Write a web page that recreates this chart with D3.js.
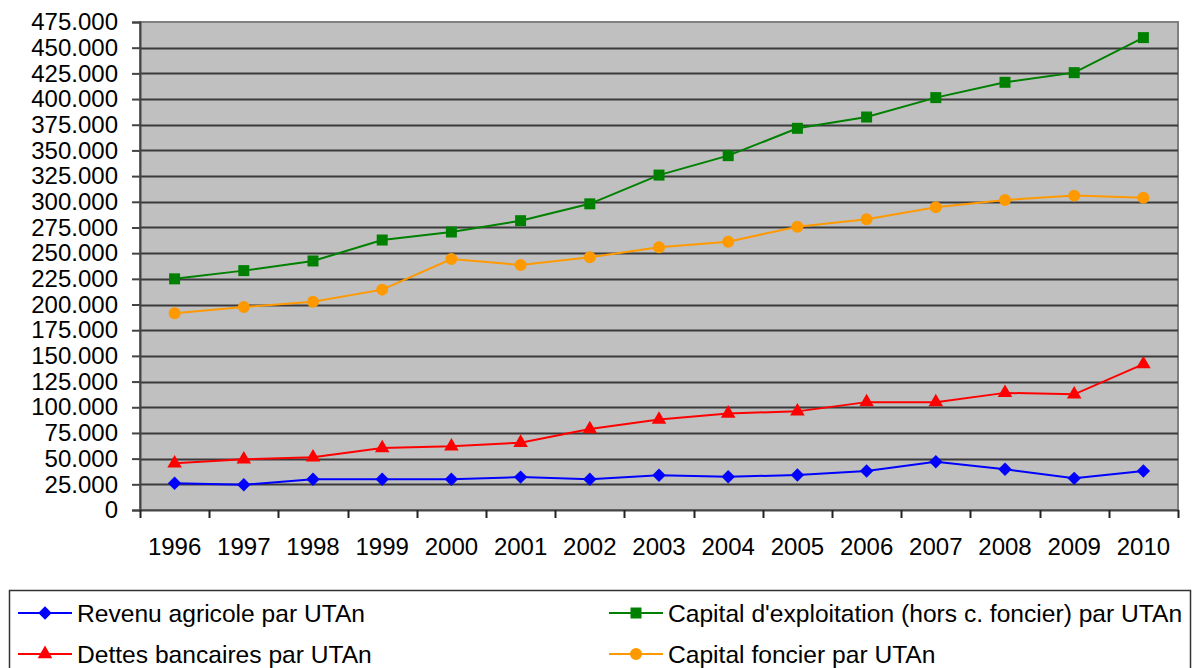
<!DOCTYPE html>
<html>
<head>
<meta charset="utf-8">
<script src="https://cdn.jsdelivr.net/npm/d3@7"></script>
<style>
    body { margin: 0; background: #fff; }
    svg { display: block; font-family: "Liberation Sans", Arial, sans-serif; }
</style>
</head>
<body>
<script>
const years = ["1996", "1997", "1998", "1999", "2000", "2001", "2002", "2003",
    "2004", "2005", "2006", "2007", "2008", "2009", "2010"];
const yTicks = [0, 25000, 50000, 75000, 100000, 125000, 150000, 175000, 200000,
    225000, 250000, 275000, 300000, 325000, 350000, 375000, 400000, 425000, 450000, 475000];

const revenu = [26000, 24600, 29900, 30000, 30000, 32000, 30000, 33800,
    32400, 34000, 38000, 47000, 39600, 30800, 38000];
const dettes = [45400, 49300, 51300, 60300, 62000, 65500, 78800, 88000,
    94000, 96000, 105000, 105000, 114000, 112600, 142000];
const capitalExpl = [225000, 233000, 242400, 262800, 270600, 281600, 298000, 326000,
    344900, 371500, 382500, 401400, 416300, 425700, 459800];
const capitalFoncier = [191500, 197600, 202800, 214500, 244300, 238500, 246000, 255700,
    261200, 275800, 283000, 294600, 301800, 306000, 304000];

const series = [
    { name: "Revenu agricole par UTAn", values: revenu, color: "#0000ff", symbol: "diamond", col: 0, row: 0 },
    { name: "Capital d'exploitation (hors c. foncier) par UTAn", values: capitalExpl, color: "#008000", symbol: "square", col: 1, row: 0 },
    { name: "Dettes bancaires par UTAn", values: dettes, color: "#ff0000", symbol: "triangle", col: 0, row: 1 },
    { name: "Capital foncier par UTAn", values: capitalFoncier, color: "#ff9900", symbol: "circle", col: 1, row: 1 }
];

const W = 1192, H = 668;
const plot = { left: 140, right: 1178, top: 22, bottom: 510 };

const svg = d3.select("body").append("svg")
    .attr("width", W)
    .attr("height", H);

const x = d3.scaleBand()
    .domain(years)
    .range([plot.left, plot.right])
    .padding(0);

const y = d3.scaleLinear()
    .domain([0, 475000])
    .range([plot.bottom, plot.top]);

const locale = d3.formatLocale({ decimal: ",", thousands: ".", grouping: [3], currency: ["", " €"] });
const fmt = locale.format(",");

// plot background
svg.append("rect")
    .attr("x", plot.left)
    .attr("y", plot.top)
    .attr("width", plot.right - plot.left)
    .attr("height", plot.bottom - plot.top)
    .attr("fill", "#c0c0c0")
    .attr("stroke", "#808080")
    .attr("stroke-width", 2);

// gridlines
svg.append("g")
    .selectAll("line")
    .data(yTicks.filter(d => d > 0 && d < 475000))
    .join("line")
    .attr("x1", plot.left)
    .attr("x2", plot.right)
    .attr("y1", d => Math.round(y(d)) + 0.5)
    .attr("y2", d => Math.round(y(d)) + 0.5)
    .attr("stroke", "#3a3a3a")
    .attr("stroke-width", 2);

// y axis
const yAxis = svg.append("g")
    .attr("transform", "translate(" + plot.left + ",0)")
    .call(d3.axisLeft(y).tickValues(yTicks).tickFormat(fmt).tickSize(8).tickPadding(14));
yAxis.select(".domain").attr("stroke", "#444").attr("stroke-width", 2);
yAxis.selectAll(".tick line").attr("stroke", "#444").attr("stroke-width", 2);
yAxis.selectAll("text")
    .attr("font-size", 24)
    .attr("fill", "#000")
    .style("font-family", "Liberation Sans, Arial, sans-serif");

// x axis
const xAxis = svg.append("g")
    .attr("transform", "translate(0," + plot.bottom + ")")
    .call(d3.axisBottom(x).tickSize(0).tickPadding(28));
xAxis.select(".domain").attr("stroke", "#444").attr("stroke-width", 2);
xAxis.selectAll("text")
    .attr("font-size", 24)
    .attr("fill", "#000")
    .style("font-family", "Liberation Sans, Arial, sans-serif");

const edges = years.map(d => x(d)).concat([x.range()[1]]);
svg.append("g")
    .selectAll("line")
    .data(edges)
    .join("line")
    .attr("x1", d => Math.round(d) + 0.5)
    .attr("x2", d => Math.round(d) + 0.5)
    .attr("y1", plot.bottom)
    .attr("y2", plot.bottom + 8)
    .attr("stroke", "#222")
    .attr("stroke-width", 2);

function symbolPath(kind) {
    if (kind === "diamond") return d3.symbol(d3.symbolSquare, 90)();
    if (kind === "square") return d3.symbol(d3.symbolSquare, 121)();
    if (kind === "triangle") return d3.symbol(d3.symbolTriangle, 92)();
    return d3.symbol(d3.symbolCircle, 113)();
}
function symbolRotate(kind) {
    return kind === "diamond" ? " rotate(45)" : "";
}

const line = d3.line()
    .x((d, i) => x(years[i]) + x.bandwidth() / 2)
    .y(d => y(d));

series.forEach(s => {
    const g = svg.append("g");
    g.append("path")
        .attr("d", line(s.values))
        .attr("fill", "none")
        .attr("stroke", s.color)
        .attr("stroke-width", 2);
    g.selectAll("path.marker")
        .data(s.values)
        .join("path")
        .attr("class", "marker")
        .attr("d", symbolPath(s.symbol))
        .attr("transform", (d, i) => "translate(" + (x(years[i]) + x.bandwidth() / 2) + "," + y(d) + ")" + symbolRotate(s.symbol))
        .attr("fill", s.color);
});

// legend
const legend = svg.append("g");
legend.append("rect")
    .attr("x", 9.5)
    .attr("y", 590.5)
    .attr("width", 1181)
    .attr("height", 120)
    .attr("fill", "#fff")
    .attr("stroke", "#333")
    .attr("stroke-width", 1.5);

const colX = [18, 609];
const rowY = [613, 654];

series.forEach(s => {
    const lg = legend.append("g")
        .attr("transform", "translate(" + colX[s.col] + "," + rowY[s.row] + ")");
    lg.append("line")
        .attr("x1", 0)
        .attr("x2", 54)
        .attr("stroke", s.color)
        .attr("stroke-width", 2);
    lg.append("path")
        .attr("d", symbolPath(s.symbol))
        .attr("transform", "translate(27,0)" + symbolRotate(s.symbol))
        .attr("fill", s.color);
    lg.append("text")
        .attr("x", 59)
        .attr("dy", "0.35em")
        .attr("font-size", 24.6)
        .attr("fill", "#000")
        .text(s.name);
});
</script>
</body>
</html>
